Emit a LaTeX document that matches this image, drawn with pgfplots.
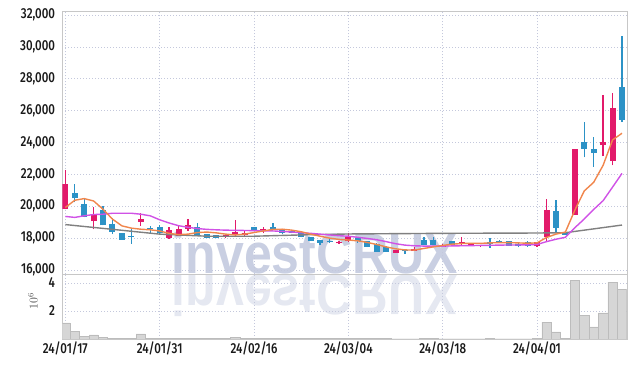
\documentclass[border=0pt]{standalone}
\usepackage{fontspec}
\setmainfont{Fira Sans}[UprightFont={* Medium}, FakeStretch=0.8]
\newfontfamily\wmfont{Liberation Sans}[FakeStretch=0.88]
\usepackage{graphicx}
\usepackage{pgfplots}
\usepackage{pgfplotstable}
\pgfplotsset{compat=1.18}

\definecolor{upc}{RGB}{226,26,106}
\definecolor{dnc}{RGB}{44,146,198}
\definecolor{ma5}{RGB}{240,134,76}
\definecolor{ma20}{RGB}{208,82,230}
\definecolor{malong}{RGB}{128,128,128}
\definecolor{gridc}{RGB}{196,200,220}
\definecolor{wmc}{RGB}{201,207,226}
\definecolor{wmr}{RGB}{229,232,241}
\definecolor{volf}{RGB}{214,214,214}
\definecolor{vold}{RGB}{188,188,188}

% up (red) candles: index open high low close
\pgfplotstableread{
i O H L C
0 19850 22250 19800 21400
3 19050 19950 18550 19500
8 19020 19560 18770 19200
11 18000 18700 17950 18500
12 18150 18800 18140 18600
13 18560 19230 18450 18800
17 18060 18250 18000 18200
18 18190 19120 18120 18400
19 18190 18450 18100 18350
21 18480 18700 18310 18560
29 17670 17800 17650 17770
30 17800 18350 17780 18060
35 17080 17260 17070 17250
37 17190 17450 17180 17330
40 17460 17620 17440 17580
42 17600 18040 17590 17730
43 17580 17720 17570 17690
44 17500 17580 17450 17540
50 17480 17740 17470 17730
51 18040 20440 17830 19750
54 19460 23620 19460 23620
57 23830 26960 23140 24060
58 22830 27100 22560 26190
}\up

% down (blue) candles
\pgfplotstableread{
i O H L C
1 20800 21400 20250 20500
2 20150 20500 19300 19350
4 19750 20000 18800 18800
5 18900 19250 18250 18400
6 18300 18300 17900 17900
7 18150 18650 17650 18080
9 18620 18770 18300 18580
10 18700 18830 18200 18300
14 18700 18950 18140 18150
15 18250 18280 18000 18020
16 18190 18200 17980 18020
20 18700 18720 18500 18520
22 18700 18940 18560 18580
23 18500 18520 18280 18300
24 18380 18450 18300 18350
25 18310 18350 18050 18060
26 18060 18070 17820 17830
27 17870 17900 17540 17700
28 17830 17950 17700 17770
31 17980 18050 17700 17790
32 17790 17800 17440 17460
33 17650 17700 17130 17150
34 17460 17480 17130 17150
36 17270 17300 17000 17190
38 17870 18040 17550 17560
39 17870 18040 17540 17560
41 17790 17800 17550 17560
45 17770 18000 17380 17640
46 17830 17860 17700 17730
47 17810 17820 17510 17520
48 17620 17700 17420 17520
49 17730 17810 17450 17520
52 19690 20400 18360 18650
53 18360 18400 18200 18210
55 24060 25290 23060 23580
56 23620 24350 22480 23330
59 27500 30690 25270 25440
}\down

% moving averages
\pgfplotstableread{
i m5 m20
0 19920 19360
1 20375 19300
2 20480 19400
3 20330 19480
4 19810 19500
5 19190 19560
6 18770 19560
7 18625 19560
8 18560 19500
9 18520 19400
10 18450 19150
11 18300 18950
12 18220 18780
13 18250 18680
14 18350 18600
15 18380 18550
16 18330 18520
17 18250 18500
18 18200 18490
19 18250 18480
20 18350 18470
21 18450 18460
22 18550 18450
23 18560 18420
24 18500 18380
25 18400 18340
26 18250 18300
27 18120 18250
28 18000 18200
29 17920 18150
30 17880 18120
31 17830 18050
32 17730 17980
33 17600 17900
34 17450 17780
35 17330 17650
36 17260 17560
37 17250 17520
38 17350 17500
39 17450 17500
40 17540 17500
41 17620 17510
42 17660 17520
43 17680 17530
44 17670 17540
45 17700 17550
46 17720 17560
47 17720 17570
48 17700 17570
49 17680 17580
50 17700 17600
51 18040 17780
52 18250 17930
53 18380 18050
54 19750 18650
55 20960 19200
56 21500 19800
57 22570 20350
58 24160 21200
59 24580 22060
}\ma

\pgfplotstableread{
i m
0 18850
5 18550
10 18250
15 18120
20 18120
25 18200
30 18260
40 18300
50 18320
53 18340
59 18820
}\malong

% volume in millions
\pgfplotstableread{
i v
0 1.16
1 0.57
2 0.21
3 0.29
4 0.14
5 0.05
6 0.05
7 0.05
8 0.36
9 0.07
10 0.07
11 0.05
12 0.05
13 0.05
14 0.05
15 0.05
16 0.05
17 0.04
18 0.14
19 0.04
20 0.05
21 0.03
22 0.05
23 0.03
24 0.03
25 0.03
26 0.03
27 0.03
28 0.03
29 0.03
30 0.03
31 0.03
32 0.03
33 0.03
34 0.03
35 0.02
36 0.02
37 0.02
38 0.03
39 0.03
40 0.02
41 0.02
42 0.02
43 0.02
44 0.02
45 0.03
46 0.02
47 0.02
48 0.02
49 0.02
50 0.05
51 1.21
52 0.50
53 0.07
54 4.19
55 1.71
56 0.86
57 1.86
58 4.07
59 3.57
}\vol

\pgfplotsset{
  cstyle/.style={
    scale only axis, width=564.4bp, anchor=south west,
    xmin=-0.32, xmax=59.5,
    axis line style={draw=black!22},
    grid=major,
    major grid style={draw=gridc, line width=0.7bp, dash pattern=on 1bp off 2bp},
    major tick length=0pt, tick style={draw=none},
    xtick={0,10,20,30,40,50},
    tick label style={font=\fontsize{14.5}{14.5}\selectfont, text=black!90},
    /pgf/number format/assume math mode=true,
    /pgf/number format/1000 sep={,},
    yticklabel style={inner sep=0pt, xshift=-7bp},
    xticklabel style={inner sep=0pt, yshift=-3bp},
    scaled y ticks=false,
  },
  wick/.style={draw=none, mark=none, forget plot,
    error bars/.cd, y dir=plus, y explicit, error mark=none,
    error bar style={draw=#1, line width=1.3bp}},
  body/.style={draw=none, mark=none, forget plot,
    error bars/.cd, y dir=plus, y explicit, error mark=none,
    error bar style={draw=#1, line width=6bp}},
}

\begin{document}
\begin{tikzpicture}
\useasboundingbox (0bp,0bp) rectangle (635bp,368bp);
\node[anchor=base, text=wmc, inner sep=0pt, font=\wmfont\bfseries\fontsize{57}{57}\selectfont] at (315bp,94bp) {investCRUX};
\node[anchor=base, text=wmr, inner sep=0pt, font=\wmfont\bfseries\fontsize{57}{57}\selectfont] at (315bp,92bp) {\scalebox{1}[-1]{investCRUX}};

\begin{axis}[cstyle, at={(62.3bp,93.7bp)}, height=263.3bp,
  ymin=15730, ymax=32250, ytick={16000,18000,...,32000},
  xticklabels={}]
  \addplot[wick=upc] table[x=i, y=L, y error plus expr=\thisrow{H}-\thisrow{L}] {\up};
  \addplot[wick=dnc] table[x=i, y=L, y error plus expr=\thisrow{H}-\thisrow{L}] {\down};
  \addplot[body=upc] table[x=i, y=O, y error plus expr={max(\thisrow{C}-\thisrow{O},70)}] {\up};
  \addplot[body=dnc] table[x=i, y=C, y error plus expr={max(\thisrow{O}-\thisrow{C},70)}] {\down};
  \addplot[malong, line width=1.4bp, mark=none] table[x=i, y=m] {\malong};
  \addplot[ma20, line width=1.4bp, mark=none] table[x=i, y=m20] {\ma};
  \addplot[ma5, line width=1.4bp, mark=none] table[x=i, y=m5] {\ma};
\end{axis}

\begin{axis}[cstyle, at={(62.3bp,29bp)}, height=64.7bp,
  ymin=0, ymax=4.62, ytick={2,4},
  xticklabels={24/01/17,24/01/31,24/02/16,24/03/04,24/03/18,24/04/01},
  ylabel={$10^6$},
  ylabel style={at={(axis description cs:-0.052,0.59)}, anchor=center, font=\fontsize{12}{12}\selectfont, text=black!70}]
  \addplot[ybar, bar shift=0pt, bar width=9.2bp, fill=volf, draw=vold, line width=0.4bp] table[x=i, y=v] {\vol};
\end{axis}
\end{tikzpicture}
\end{document}
